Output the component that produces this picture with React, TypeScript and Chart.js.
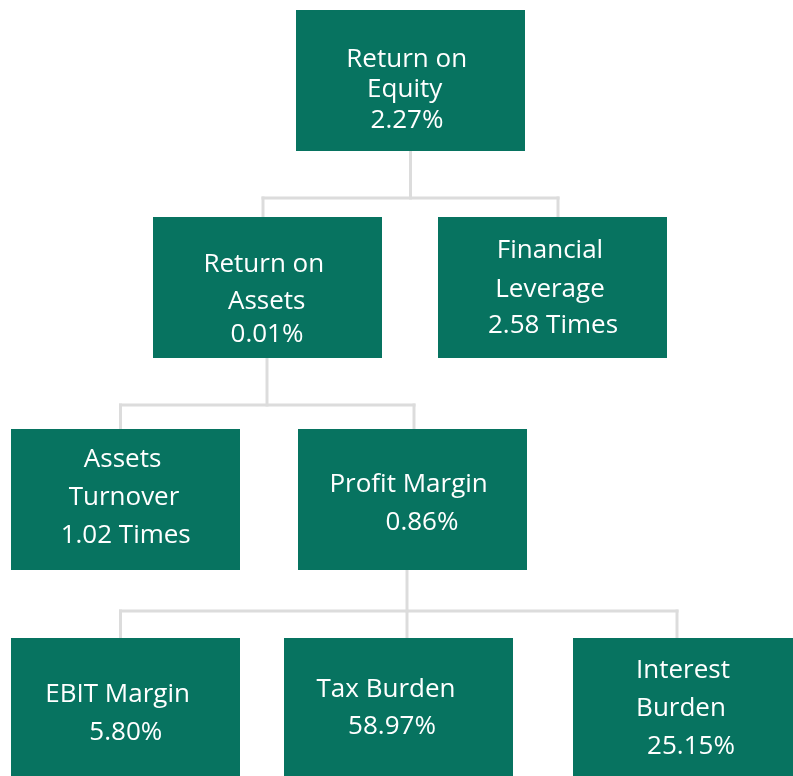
import { useEffect, useRef } from "react";
import { Chart, registerables } from "chart.js";

Chart.register(...registerables);

// ---- data ----
const nodeNames: string[][] = [
  ["Return on", "Equity"],
  ["Return on", "Assets"],
  ["Financial", "Leverage"],
  ["Assets", "Turnover"],
  ["Profit Margin"],
  ["EBIT Margin"],
  ["Tax Burden"],
  ["Interest", "Burden"],
];
const nodeValues = [2.27, 0.01, 2.58, 1.02, 0.86, 5.8, 58.97, 25.15];
const nodeUnits = ["%", "%", " Times", " Times", "%", "%", "%", "%"];
const nodeParents = [-1, 0, 0, 1, 1, 4, 4, 4];

// ---- layout (diagram units) ----
const BOX_W = 229;
const BOX_H = 141;
const boxOrigins: [number, number][] = [
  [296, 10],
  [153, 217],
  [438, 217],
  [11, 429],
  [298, 429],
  [11, 638],
  [284, 638],
  [573, 638],
];
const textPos: [number, number][][] = [
  [[406.7, 67], [404.7, 96.5], [407, 128]],
  [[263.8, 271.7], [266.7, 309], [267, 341.7]],
  [[550, 258], [550, 296.7], [553, 333]],
  [[122.6, 466.7], [124, 505], [125.7, 542.7]],
  [[408.6, 491.7], [422, 530]],
  [[117.6, 701.7], [125.8, 740]],
  [[386, 696.7], [392, 734]],
  [[683, 678], [681, 715.7], [691, 754]],
];
const connectors = [
  { parent: 0, fromX: 410.5, fromY: 151, busY: 198, childXs: [263, 558], toY: 217 },
  { parent: 1, fromX: 267, fromY: 358, busY: 405, childXs: [120.5, 414], toY: 429 },
  { parent: 4, fromX: 407, fromY: 570, busY: 611, childXs: [120.5, 407, 677], toY: 638 },
];

const BOX_COLOR = "#077360";
const LINE_COLOR = "#dcdcdc";
const FONT = '26px "Open Sans", "Noto Sans", sans-serif';

const treePlugin = {
  id: "dupontTree",
  afterDatasetsDraw(chart: any) {
    const { ctx, scales } = chart;
    const xs = scales.x;
    const ys = scales.y;
    const px = (v: number) => xs.getPixelForValue(v);
    const py = (v: number) => ys.getPixelForValue(v);
    ctx.save();
    // connectors
    ctx.strokeStyle = LINE_COLOR;
    ctx.lineWidth = 3;
    ctx.lineCap = "square";
    connectors.forEach((c) => {
      ctx.beginPath();
      ctx.moveTo(px(c.fromX), py(c.fromY));
      ctx.lineTo(px(c.fromX), py(c.busY));
      ctx.stroke();
      const minX = Math.min(...c.childXs, c.fromX);
      const maxX = Math.max(...c.childXs, c.fromX);
      ctx.beginPath();
      ctx.moveTo(px(minX), py(c.busY));
      ctx.lineTo(px(maxX), py(c.busY));
      ctx.stroke();
      c.childXs.forEach((cx) => {
        ctx.beginPath();
        ctx.moveTo(px(cx), py(c.busY));
        ctx.lineTo(px(cx), py(c.toY));
        ctx.stroke();
      });
    });
    // boxes
    nodeValues.forEach((v, i) => {
      const [x0, y0] = boxOrigins[i];
      const l = px(x0);
      const r = px(x0 + BOX_W);
      const t = py(y0);
      const b = py(y0 + BOX_H);
      ctx.fillStyle = BOX_COLOR;
      ctx.fillRect(l, t, r - l, b - t);
      const lines = [...nodeNames[i], `${v.toFixed(2)}${nodeUnits[i]}`];
      ctx.fillStyle = "#ffffff";
      ctx.font = FONT;
      ctx.textAlign = "center";
      ctx.textBaseline = "alphabetic";
      lines.forEach((txt, k) => {
        const p = textPos[i][k];
        ctx.fillText(txt, px(p[0]), py(p[1]));
      });
    });
    ctx.restore();
  },
};

export default function App() {
  const ref = useRef<HTMLCanvasElement | null>(null);
  useEffect(() => {
    document.body.style.margin = "0";
    if (!ref.current) return;
    const chart = new Chart(ref.current, {
      type: "scatter",
      data: {
        datasets: [
          {
            label: "nodes",
            data: nodeValues.map((v, i) => ({
              x: boxOrigins[i][0] + BOX_W / 2,
              y: boxOrigins[i][1] + BOX_H / 2,
              v,
              parent: nodeParents[i],
            })) as any,
            pointRadius: 0,
          },
        ],
      },
      options: {
        responsive: false,
        animation: false,
        layout: { padding: 0 },
        scales: {
          x: { type: "linear", min: 0, max: 793, display: false },
          y: { type: "linear", min: 0, max: 776, reverse: true, display: false },
        },
        plugins: {
          legend: { display: false },
          tooltip: { enabled: false },
        },
      },
      plugins: [treePlugin],
    });
    return () => chart.destroy();
  }, []);
  return (
    <div style={{ width: 793, height: 776, background: "#ffffff" }}>
      <canvas ref={ref} width={793} height={776} style={{ display: "block" }} />
    </div>
  );
}
